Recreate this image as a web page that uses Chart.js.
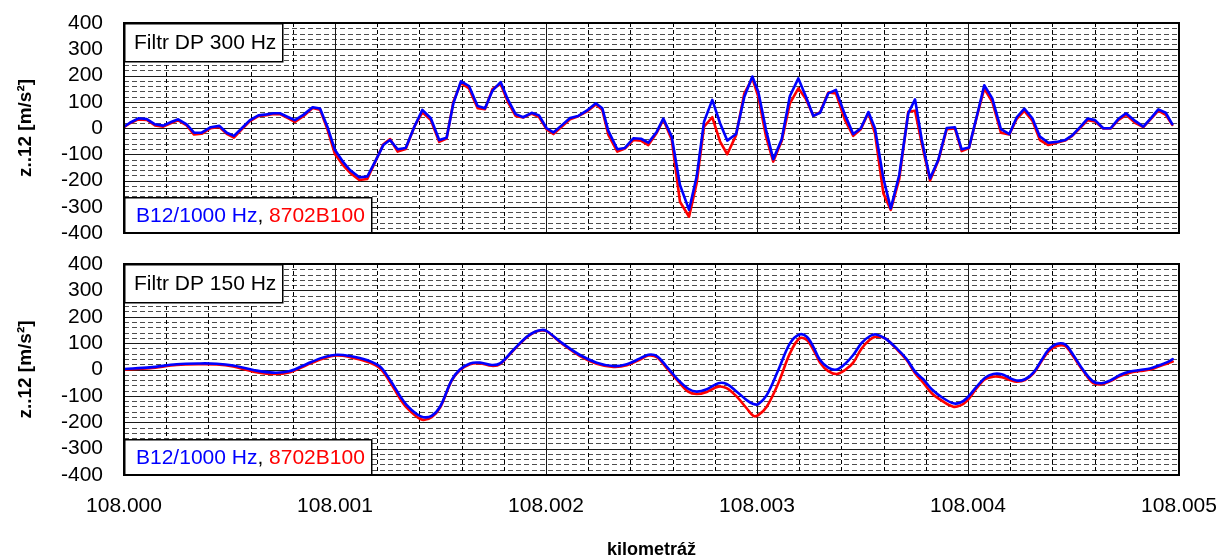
<!DOCTYPE html>
<html>
<head>
<meta charset="utf-8">
<script src="https://cdn.jsdelivr.net/npm/chart.js@4.4.1/dist/chart.umd.min.js"></script>
<style>
  html, body { margin: 0; padding: 0; background: #fff; }
  #wrap { position: relative; width: 1218px; height: 555px; overflow: hidden; background: #fff; }
  #wrap canvas { position: absolute; left: 0; }
  #topPanel { top: 0; }
  #bottomPanel { top: 240px; }
</style>
</head>
<body>
<div id="wrap">
  <canvas id="topPanel" width="1218" height="245"></canvas>
  <canvas id="bottomPanel" width="1218" height="315"></canvas>
</div>
<script>
// ---- axis ticks ----
const kmTicks  = [108.000, 108.001, 108.002, 108.003, 108.004, 108.005];
const kmLabels = ['108.000', '108.001', '108.002', '108.003', '108.004', '108.005'];
const accTicks = [-400, -300, -200, -100, 0, 100, 200, 300, 400];

// ---- series ----
const seriesNames = ['B12/1000 Hz', '8702B100'];
const panelTitles = ['Filtr DP 300 Hz', 'Filtr DP 150 Hz'];

// low-pass 300 Hz
const kmTop = [
  108.000000, 108.000028, 108.000068, 108.000108, 108.000147, 108.000186, 108.000226, 108.000257, 108.000297, 108.000332,
  108.000368, 108.000411, 108.000452, 108.000487, 108.000521, 108.000558, 108.000597, 108.000637, 108.000676, 108.000708,
  108.000739, 108.000779, 108.000810, 108.000850, 108.000894, 108.000929, 108.000964, 108.001000, 108.001037, 108.001071,
  108.001115, 108.001153, 108.001190, 108.001229,
  108.001261, 108.001297, 108.001335, 108.001376, 108.001414, 108.001454, 108.001494, 108.001529, 108.001561, 108.001597,
  108.001635, 108.001676, 108.001711, 108.001746, 108.001785, 108.001819, 108.001856, 108.001892, 108.001932, 108.001967,
  108.002003, 108.002035, 108.002074, 108.002114, 108.002153, 108.002193, 108.002236, 108.002267, 108.002295, 108.002338,
  108.002374, 108.002414, 108.002450, 108.002485,
  108.002525, 108.002556, 108.002596, 108.002635, 108.002678, 108.002714, 108.002749, 108.002788, 108.002825, 108.002859,
  108.002901, 108.002940, 108.002978, 108.003006, 108.003043, 108.003077, 108.003117, 108.003156, 108.003196, 108.003232,
  108.003267, 108.003299, 108.003338, 108.003374, 108.003417, 108.003456, 108.003492, 108.003528, 108.003559, 108.003599,
  108.003634, 108.003674, 108.003717, 108.003749,
  108.003781, 108.003820, 108.003859, 108.003899, 108.003938, 108.003970, 108.004005, 108.004041, 108.004077, 108.004115,
  108.004156, 108.004196, 108.004231, 108.004267, 108.004305, 108.004341, 108.004381, 108.004420, 108.004460, 108.004494,
  108.004531, 108.004567, 108.004602, 108.004641, 108.004676, 108.004712, 108.004749, 108.004792, 108.004831, 108.004867,
  108.004902, 108.004937, 108.004968
];
const blueTop = [
  5, 20, 37, 34, 14, 9, 24, 33, 14, -18, -18, 3, 8, -18, -30, -1, 30, 48, 52, 56,
  56, 41, 30, 50, 79, 74, 5, -84, -128, -160, -188, -185, -128, -65,
  -46, -81, -76, 5, 69, 37, -46, -37, 94, 178, 160, 84, 75, 142, 175, 109,
  53, 41, 58, 48, -1, -17, 10, 38, 46, 66, 94, 75, -10, -81, -76, -39, -41, -56,
  -14, 36, -33, -217, -312, -185, 24, 107, 18, -48, -23, 119, 196, 138, -8, -119,
  -43, 122, 189, 119, 46, 58, 132, 145, 50, -23, -1, 61, -1, -192, -306, -179, 56, 109,
  -46, -192, -122, 0, 3, -81, -74, 43, 163, 113, -4, -23, 41, 74, 37, -33,
  -56, -53, -46, -28, 3, 36, 30, -1, -1, 34, 56, 27, 5, 38, 71, 58, 15
];
const redTop = [
  3, 18, 33, 31, 10, 5, 20, 29, 10, -25, -22, -1, 4, -22, -37, -5, 26, 45, 49, 53,
  53, 37, 23, 45, 76, 70, -5, -100, -140, -170, -198, -194, -130, -62,
  -42, -90, -80, 5, 60, 30, -53, -40, 100, 172, 151, 75, 72, 148, 168, 100,
  46, 40, 55, 42, -5, -23, 5, 33, 45, 62, 90, 68, -25, -90, -78, -46, -48, -65,
  -18, 32, -45, -281, -338, -210, 5, 41, -52, -100, -27, 132, 189, 120, -33, -128,
  -50, 94, 151, 110, 46, 60, 135, 132, 30, -30, -5, 58, -20, -249, -312, -195, 62, 66,
  -60, -200, -125, -5, -2, -88, -76, 40, 150, 100, -18, -25, 35, 65, 28, -46,
  -65, -56, -48, -30, 0, 30, 25, -2, -2, 30, 50, 20, 3, 35, 66, 50, 12
];

// low-pass 150 Hz
const kmBottom = [
  108.000000, 108.000123, 108.000250, 108.000360, 108.000439, 108.000518, 108.000613, 108.000708, 108.000787, 108.000866,
  108.000945, 108.001008, 108.001071, 108.001150, 108.001213, 108.001261, 108.001308, 108.001340, 108.001387, 108.001419,
  108.001458, 108.001498, 108.001553, 108.001592, 108.001640, 108.001687, 108.001743, 108.001782, 108.001845, 108.001909,
  108.001948, 108.001980, 108.002003, 108.002082, 108.002161, 108.002240, 108.002319, 108.002383, 108.002446, 108.002485,
  108.002525, 108.002572, 108.002627, 108.002674, 108.002714, 108.002762, 108.002817, 108.002856, 108.002904, 108.002951,
  108.002983, 108.003006, 108.003046, 108.003101, 108.003156, 108.003201, 108.003236, 108.003267, 108.003299, 108.003338,
  108.003378, 108.003417, 108.003456, 108.003496, 108.003536, 108.003564, 108.003607, 108.003662, 108.003710, 108.003749,
  108.003788, 108.003828, 108.003883, 108.003930, 108.003962, 108.003994, 108.004041, 108.004081, 108.004120, 108.004160,
  108.004199, 108.004231, 108.004270, 108.004310, 108.004349, 108.004381, 108.004420, 108.004460, 108.004499, 108.004546,
  108.004594, 108.004634, 108.004673, 108.004720, 108.004768, 108.004815, 108.004863, 108.004910, 108.004942, 108.004970
];
const blueBottom = [
  2, 8, 20, 23, 22, 15, -2, -12, -6, 21,
  46, 56, 51, 36, 11, -40, -100, -135, -169, -181,
  -176, -141, -40, 0, 23, 26, 17, 23, 74, 124,
  143, 150, 146, 97, 55, 26, 13, 20, 42, 56,
  51, 11, -40, -73, -84, -75, -52, -55, -84, -116,
  -131, -131, -97, -2, 99, 133, 124, 86, 36, 7,
  0, 21, 55, 101, 127, 133, 118, 80, 39, -8,
  -37, -75, -109, -128, -126, -109, -65, -31, -17, -18,
  -33, -42, -37, -12, 36, 74, 97, 95, 55, -2,
  -46, -52, -42, -21, -8, -2, 4, 17, 27, 39
];
const redBottom = [
  -1, 5, 17, 20, 19, 11, -8, -17, -10, 17,
  42, 53, 47, 30, 5, -48, -110, -145, -179, -191,
  -181, -145, -42, -3, 20, 23, 14, 20, 72, 122,
  142, 148, 145, 94, 51, 22, 10, 16, 38, 53,
  47, 5, -45, -84, -93, -85, -65, -71, -103, -147,
  -176, -173, -141, -52, 61, 118, 112, 75, 26, -6,
  -17, -2, 26, 80, 114, 124, 118, 77, 35, -14,
  -50, -90, -122, -141, -137, -120, -71, -37, -27, -29,
  -40, -46, -40, -15, 32, 68, 89, 89, 49, -6,
  -52, -56, -45, -25, -12, -6, 0, 13, 22, 30
];

// ---- styling ----
const FONT = "'Liberation Sans', Arial, Helvetica, sans-serif";
const BLUE = '#0000ff';
const RED = '#ff0000';
const Y_MINOR_STEP = 20;     // dashed horizontal grid every 20 m/s²
const X_SUBDIV = 5;          // dashed vertical grid: 5 parts per metre
const PLOT_LEFT = 124;
const PLOT_RIGHT_GAP = 39;

function strokeLine(ctx, x1, y1, x2, y2) {
  ctx.beginPath();
  ctx.moveTo(x1, y1);
  ctx.lineTo(x2, y2);
  ctx.stroke();
}

// Grid lines, frame and the two annotation boxes of each panel
const panelDecor = {
  id: 'panelDecor',
  beforeDatasetsDraw(chart) {
    const { ctx, chartArea: a, scales: { x, y } } = chart;
    ctx.save();
    ctx.beginPath();
    ctx.rect(a.left, a.top, a.right - a.left, a.bottom - a.top);
    ctx.clip();
    ctx.lineWidth = 1;

    // dashed horizontal minor lines
    ctx.setLineDash([5, 3]);
    ctx.strokeStyle = '#4d4d4d';
    const yMin = accTicks[0], yMax = accTicks[accTicks.length - 1];
    for (let v = yMin; v <= yMax; v += Y_MINOR_STEP) {
      if (accTicks.includes(v)) continue;
      const py = Math.round(y.getPixelForValue(v)) + 0.5;
      strokeLine(ctx, a.left, py, a.right, py);
    }
    // dashed vertical minor lines
    ctx.setLineDash([4, 3]);
    ctx.strokeStyle = '#000';
    for (let i = 0; i < kmTicks.length - 1; i++) {
      for (let j = 1; j < X_SUBDIV; j++) {
        const v = kmTicks[i] + (kmTicks[i + 1] - kmTicks[i]) * j / X_SUBDIV;
        const px = Math.round(x.getPixelForValue(v)) + 0.5;
        strokeLine(ctx, px, a.top, px, a.bottom);
      }
    }
    // solid major lines
    ctx.setLineDash([]);
    ctx.strokeStyle = '#1a1a1a';
    accTicks.forEach(v => {
      const py = Math.round(y.getPixelForValue(v)) + 0.5;
      strokeLine(ctx, a.left, py, a.right, py);
    });
    kmTicks.forEach(v => {
      const px = Math.round(x.getPixelForValue(v)) + 0.5;
      strokeLine(ctx, px, a.top, px, a.bottom);
    });
    ctx.restore();
  },
  afterDatasetsDraw(chart, args, opts) {
    const { ctx, chartArea: a } = chart;
    ctx.save();
    ctx.textBaseline = 'middle';
    ctx.textAlign = 'left';
    ctx.font = `21px ${FONT}`;

    // filter caption, top-left corner
    const tw = ctx.measureText(opts.caption).width;
    const cw = Math.round(tw + 16), ch = 38;
    ctx.fillStyle = '#fff';
    ctx.fillRect(a.left, a.top, cw, ch);
    ctx.lineWidth = 1.5;
    ctx.strokeStyle = '#000';
    ctx.strokeRect(a.left + 0.75, a.top + 0.75, cw, ch);
    ctx.fillStyle = '#000';
    ctx.fillText(opts.caption, a.left + 10, a.top + ch / 2 + 1);

    // series key, bottom-left corner
    const sets = chart.data.datasets;
    const sep = ', ';
    let total = 0;
    sets.forEach((d, i) => {
      total += ctx.measureText(d.label).width;
      if (i < sets.length - 1) total += ctx.measureText(sep).width;
    });
    const lw = Math.round(total + 18), lh = 36;
    const ly = a.bottom - lh;
    ctx.fillStyle = '#fff';
    ctx.fillRect(a.left, ly, lw, lh);
    ctx.strokeRect(a.left + 0.75, ly + 0.75, lw, lh - 0.75);
    let tx = a.left + 12;
    const ty = ly + lh / 2 + 1;
    sets.forEach((d, i) => {
      ctx.fillStyle = d.borderColor;
      ctx.fillText(d.label, tx, ty);
      tx += ctx.measureText(d.label).width;
      if (i < sets.length - 1) {
        ctx.fillStyle = '#000';
        ctx.fillText(sep, tx, ty);
        tx += ctx.measureText(sep).width;
      }
    });

    // plot frame
    ctx.lineWidth = 2;
    ctx.strokeStyle = '#000';
    ctx.strokeRect(a.left, a.top, a.right - a.left, a.bottom - a.top);
    ctx.restore();
  }
};

function makePanel(canvasId, opt) {
  const toPoints = (xs, ys) => xs.map((k, i) => ({ x: k, y: ys[i] }));
  return new Chart(document.getElementById(canvasId), {
    type: 'line',
    data: {
      datasets: [
        { label: seriesNames[0], data: toPoints(opt.km, opt.blue), borderColor: BLUE },
        { label: seriesNames[1], data: toPoints(opt.km, opt.red), borderColor: RED }
      ].map(d => Object.assign(d, {
        borderWidth: 2.6,
        pointRadius: 0,
        fill: false,
        tension: opt.tension,
        borderJoinStyle: 'round',
        borderCapStyle: 'round'
      }))
    },
    options: {
      responsive: false,
      animation: false,
      events: [],
      layout: { autoPadding: false, padding: { top: opt.padTop, right: PLOT_RIGHT_GAP, left: 0, bottom: 0 } },
      plugins: {
        legend: { display: false },
        tooltip: { enabled: false },
        panelDecor: { caption: opt.caption }
      },
      scales: {
        x: {
          type: 'linear',
          min: kmTicks[0],
          max: kmTicks[kmTicks.length - 1],
          afterBuildTicks: s => { s.ticks = kmTicks.map(v => ({ value: v })); },
          afterFit: s => {
            s.height = opt.xAxisHeight;
            s.paddingLeft = 0;
            s.paddingRight = 0;
          },
          grid: { display: false, drawTicks: false },
          border: { display: false },
          ticks: {
            display: opt.showX,
            autoSkip: false,
            maxRotation: 0,
            padding: 21,
            color: '#000',
            font: { family: FONT, size: 21, lineHeight: 1 },
            callback: (v, i) => kmLabels[i]
          },
          title: {
            display: opt.showX,
            text: 'kilometráž',
            color: '#000',
            font: { family: FONT, size: 18, weight: 'bold', lineHeight: 0.6 },
            padding: { top: 0, bottom: 0 }
          }
        },
        y: {
          min: accTicks[0],
          max: accTicks[accTicks.length - 1],
          afterBuildTicks: s => { s.ticks = accTicks.map(v => ({ value: v })); },
          afterFit: s => {
            s.width = PLOT_LEFT;
            s.paddingTop = 0;
            s.paddingBottom = 0;
          },
          grid: { display: false, drawTicks: false },
          border: { display: false },
          ticks: {
            autoSkip: false,
            padding: 21,
            color: '#000',
            font: { family: FONT, size: 21, lineHeight: 1 },
            callback: v => String(v)
          },
          title: {
            display: true,
            text: 'z..12 [m/s²]',
            color: '#000',
            font: { family: FONT, size: 19, weight: 'bold', lineHeight: 1 },
            padding: { top: 16, bottom: 0 }
          }
        }
      }
    },
    plugins: [panelDecor]
  });
}

makePanel('topPanel', {
  km: kmTop, blue: blueTop, red: redTop, tension: 0,
  caption: panelTitles[0], padTop: 23, xAxisHeight: 12, showX: false
});
makePanel('bottomPanel', {
  km: kmBottom, blue: blueBottom, red: redBottom, tension: 0.35,
  caption: panelTitles[1], padTop: 24, xAxisHeight: 80, showX: true
});
</script>
</body>
</html>
